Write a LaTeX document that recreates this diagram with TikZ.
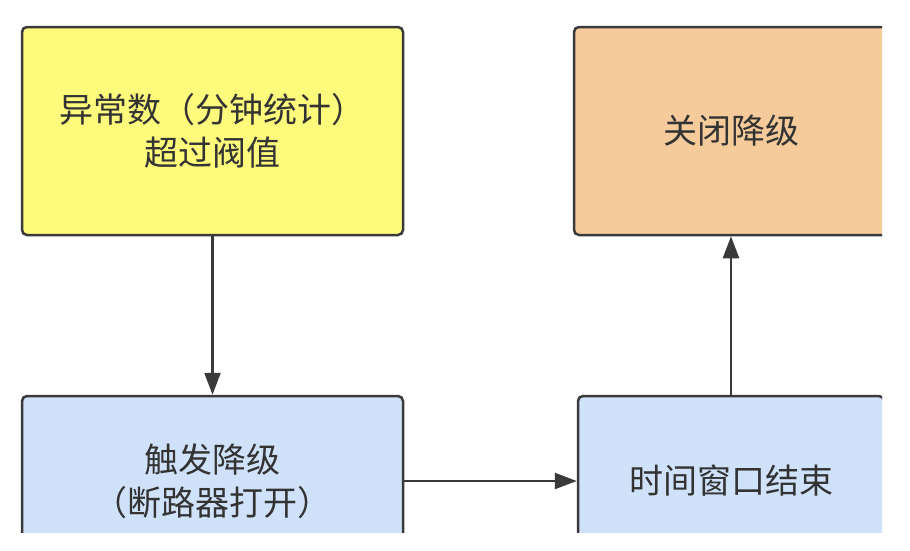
\documentclass[tikz,border=0pt]{standalone}
\usepackage{fontspec}
\newfontfamily\cjk{Noto Sans CJK SC}
\usetikzlibrary{arrows.meta}
\definecolor{boxline}{HTML}{3A3A3A}
\definecolor{txt}{HTML}{333333}
\definecolor{yel}{HTML}{FEFA7C}
\definecolor{ora}{HTML}{F5CB9B}
\definecolor{blu}{HTML}{CFE2F9}
\tikzset{
  stepbox/.style={draw=boxline, line width=2.5pt, rounded corners=5pt, align=center,
    text=txt, font=\cjk\fontsize{34pt}{43pt}\selectfont, inner sep=0pt},
  conn/.style={draw=boxline, line width=2.4pt, -{Triangle[length=22pt,width=16pt]}}
}
\begin{document}
\begin{tikzpicture}[x=1pt,y=-1pt]
\useasboundingbox (0,0) rectangle (910,550);
\fill[white] (0,0) rectangle (910,550);
\begin{scope}
\clip (0,0) rectangle (882,532);
\node[stepbox, fill=yel, minimum width=381pt, minimum height=208pt] (cond) at (212.5,131) {异常数（分钟统计）\\超过阀值};
\node[stepbox, fill=ora, minimum width=314pt, minimum height=208pt] (close) at (731,131) {关闭降级};
\node[stepbox, fill=blu, minimum width=381pt, minimum height=170pt] (trig) at (212.5,481) {触发降级\\（断路器打开）};
\node[stepbox, fill=blu, minimum width=306pt, minimum height=170pt] (win) at (731,481) {时间窗口结束};
\draw[conn] (cond.south) -- (trig.north);
\draw[conn] (trig.east) -- (win.west);
\draw[conn] (win.north) -- (close.south);
\end{scope}
\end{tikzpicture}
\end{document}
